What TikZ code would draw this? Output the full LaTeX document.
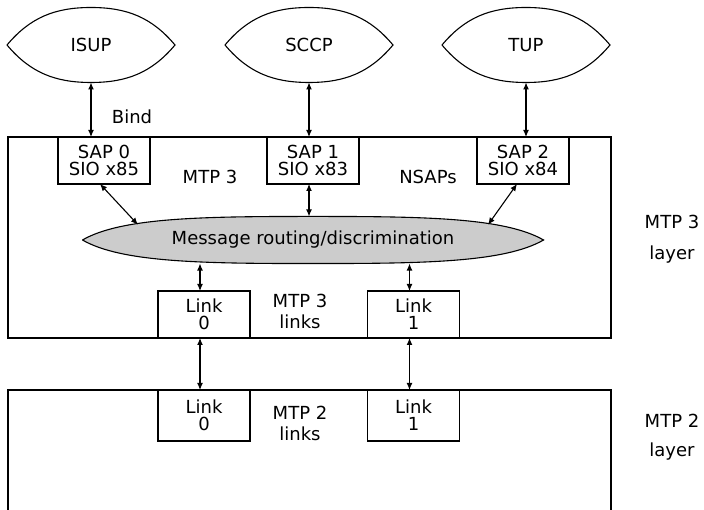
\documentclass[tikz,border=0pt]{standalone}
\usepackage{fontspec}
\setmainfont{DejaVu Sans}
\usetikzlibrary{arrows.meta, shapes.geometric}

\tikzset{
  layerbox/.style={draw, minimum width=603pt, minimum height=201pt, inner sep=0pt, outer sep=0pt},
  sapbox/.style={draw, fill=white, align=center, inner sep=0pt, outer sep=0pt, minimum width=92pt, minimum height=47pt},
  linkbox/.style={sapbox, minimum height=47pt},
  proto/.style={ellipse, inner sep=0pt, outer sep=0pt, minimum width=168pt, minimum height=75pt},
  lbl/.style={align=center, inner sep=0pt},
  both/.style={{Latex[length=7pt,width=6pt]}-{Latex[length=7pt,width=6pt]}}
}

\begin{document}
\begin{tikzpicture}[x=1pt, y=1pt, line width=1.1pt, font=\fontsize{18}{17}\selectfont]
\useasboundingbox (0,0) rectangle (704,510);

\node[proto](isup) at (91,465) {ISUP};
\node[proto](sccp) at (309,465) {SCCP};
\node[proto](tup) at (526,465) {TUP};
\draw (isup.west) to[out=50,in=180] (isup.north) to[out=0,in=130] (isup.east) to[out=-130,in=0] (isup.south) to[out=180,in=-50] (isup.west);
\draw (sccp.west) to[out=50,in=180] (sccp.north) to[out=0,in=130] (sccp.east) to[out=-130,in=0] (sccp.south) to[out=180,in=-50] (sccp.west);
\draw (tup.west) to[out=50,in=180] (tup.north) to[out=0,in=130] (tup.east) to[out=-130,in=0] (tup.south) to[out=180,in=-50] (tup.west);

\node[layerbox](mtp3) at (309.5,272.5) {};
\draw (8,0) -- (8,120) -- (611,120) -- (611,0);

\node[sapbox](sap0) at (104,349.5) {SAP 0\\SIO x85};
\node[sapbox](sap1) at (313,349.5) {SAP 1\\SIO x83};
\node[sapbox](sap2) at (523,349.5) {SAP 2\\SIO x84};

\node[ellipse, inner sep=0pt, minimum width=460pt, minimum height=46pt](msg) at (313,270) {};
\draw[fill=gray!40] (msg.west) to[out=30,in=180,out looseness=0.5,in looseness=1.2] (msg.north)
  to[out=0,in=150,out looseness=1.2,in looseness=0.5] (msg.east)
  to[out=-150,in=0,out looseness=0.5,in looseness=1.2] (msg.south)
  to[out=180,in=-30,out looseness=1.2,in looseness=0.5] (msg.west);
\node[lbl](msgtext) at (msg) {Message routing/discrimination};

\node[linkbox](lk30) at (204,195.5) {Link\\0};
\node[linkbox](lk31) at (413.5,195.5) {Link\\1};
\node[linkbox, minimum height=51pt](lk20) at (204,94.5) {Link\\0};
\node[linkbox, minimum height=51pt](lk21) at (413.5,94.5) {Link\\1};

\node[lbl](bind) at (132,393) {Bind};
\node[lbl](mtp3in) at (210,333) {MTP 3};
\node[lbl](nsaps) at (428,333) {NSAPs};
\node[lbl](mtp3lk) at (300,199) {MTP 3\\[4pt]links};
\node[lbl](mtp2lk) at (300,87) {MTP 2\\[4pt]links};
\node[lbl](mtp3ly) at (672,271) {MTP 3\\[14pt]layer};
\node[lbl](mtp2ly) at (672,73) {MTP 2\\[12pt]layer};

\draw[both] (isup.south) -- (isup |- sap0.north);
\draw[both] (sccp.south) -- (sccp |- sap1.north);
\draw[both] (tup.south) -- (tup |- sap2.north);
\draw[both] ([xshift=-4pt]sap0.south) -- (msg.175);
\draw[both] (sccp |- sap1.south) -- (sccp |- msg.north);
\draw[both] ([xshift=-6pt]sap2.south) -- (msg.5);
\draw[both] ([xshift=-4pt]lk30.north) -- ([xshift=-4pt]lk30.north |- msg.south);
\draw[both] ([xshift=-4pt]lk31.north) -- ([xshift=-4pt]lk31.north |- msg.south);
\draw[both] ([xshift=-4pt]lk30.south) -- ([xshift=-4pt]lk20.north);
\draw[both] ([xshift=-4pt]lk31.south) -- ([xshift=-4pt]lk21.north);
\end{tikzpicture}
\end{document}
